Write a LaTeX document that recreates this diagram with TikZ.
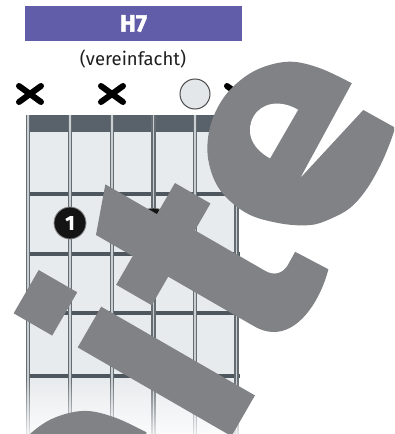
\documentclass[tikz,border=0pt]{standalone}
\usepackage{fontspec}
\setmainfont{Fira Sans}
\newfontfamily\heavyfont{Fira Sans}[BoldFeatures={FakeBold=1.3}]
\usetikzlibrary{fadings}
\definecolor{titlebar}{HTML}{625DA8}
\definecolor{board}{HTML}{E8EBED}
\definecolor{nutc}{HTML}{59626A}
\definecolor{fretc}{HTML}{4E575E}
\definecolor{strdark}{HTML}{656C72}
\definecolor{strlight}{HTML}{C9CED2}
\definecolor{wm}{RGB}{128,130,133}
\definecolor{opencirc}{HTML}{E3E7EA}
\newcommand{\wmEletter}{%
  \fill[wm] (86.4,-369.6) -- (-4.4,-349) -- (103.8,-346.3)
    -- plot[smooth, tension=0.6] coordinates {(103.8,-346.3) (100.9,-311.3) (91.6,-282) (70.9,-259.4) (46.3,-246.7) (20.5,-242.2) (-7.9,-246.3) (-34.4,-260.4) (-54.5,-285.5) (-61.3,-320.3) (-53.4,-354.2) (-39.9,-381) (-24.7,-395.3) (-5.1,-407.1) (18.5,-412) (46.2,-412.1) (71.2,-409.2) (87,-406)}
    -- cycle;
  \fill[white] (-2.1,-313) .. controls (-2.5,-290) and (10,-278) .. (26,-277.8)
    .. controls (42,-278) and (54,-292) .. (54,-313) -- cycle;
}
\begin{document}
\begin{tikzpicture}[x=1pt,y=-1pt,
  mutemark/.style={line width=6pt, line cap=round, black},
  fingerdot/.style={circle, fill=black!92, draw=black!45, line width=0.8pt, minimum size=32pt, inner sep=0pt, text=white, font=\heavyfont\bfseries\fontsize{20}{20}\selectfont},
  opendot/.style={circle, fill=opencirc, draw=black!70, line width=1pt, minimum size=30pt, inner sep=0pt},
  fretline/.style={fretc, line width=3.5pt}
]
\useasboundingbox (0,0) rectangle (394,434);
\clip (0,0) rectangle (394,434);
\fill[white] (0,0) rectangle (394,434);

% title
\node[fill=titlebar, minimum width=217pt, minimum height=35pt, inner sep=0pt, text=white,
  font=\heavyfont\bfseries\fontsize{24}{24}\selectfont] (title) at (133.5,23.5) {H7};
\node[font=\fontsize{18.5}{18.5}\selectfont, text=black!88] (sub) at (133,59.5) {(vereinfacht)};

% board
\fill[board] (28,132) rectangle (237,434);
\fill[nutc] (26,115) rectangle (239.5,132);
\foreach \yy in {194,254,313,376} \draw[fretline] (26,\yy) -- (239.5,\yy);
\foreach \xx in {28,70,112,153.5,195,236.5} {
  \draw[strdark, line width=4.5pt] (\xx,115) -- (\xx,440);
  \draw[strlight, line width=1.6pt] (\xx,115) -- (\xx,440);
}
\fill[white, path fading=north] (0,378) rectangle (394,446);

% markers above the nut
\foreach \xx/\nm in {30/m6,112/m4,238/m1} {
  \coordinate (\nm) at (\xx,94);
  \draw[mutemark] ([shift={(-11,-8)}]\nm) -- ([shift={(11,8)}]\nm);
  \draw[mutemark] ([shift={(-11,8)}]\nm) -- ([shift={(11,-8)}]\nm);
}
\node[opendot] (o2) at (195,94) {};

% finger dots
\node[fingerdot] (f1) at (70,223) {1};
\node[fingerdot] (f2) at (153.5,224) {};

% watermark
\begin{scope}[y=1pt, rotate=60]
  % i
  \fill[wm] (-262,-418.5) rectangle (-215,-241);
  \fill[wm] (-264.5,-213) rectangle (-214.5,-168.5);
  % t
  \fill[wm] (-155.5,-200.6) -- (-107,-183.4) -- (-107,-243) -- (-71,-243) -- (-71,-284)
    -- (-102,-284) -- (-102,-365)
    .. controls (-102,-376) and (-95,-381.5) .. (-86,-381.8) -- (-70.5,-381.5) -- (-69,-419)
    .. controls (-100,-428) and (-155.5,-428) .. (-155.5,-383)
    -- (-155.5,-284) -- (-188.5,-284) -- (-188.5,-243) -- (-155.5,-243) -- cycle;
  % e
  \wmEletter
  \begin{scope}[shift={(-405,3)}]
    \wmEletter
  \end{scope}
\end{scope}
\end{tikzpicture}
\end{document}
